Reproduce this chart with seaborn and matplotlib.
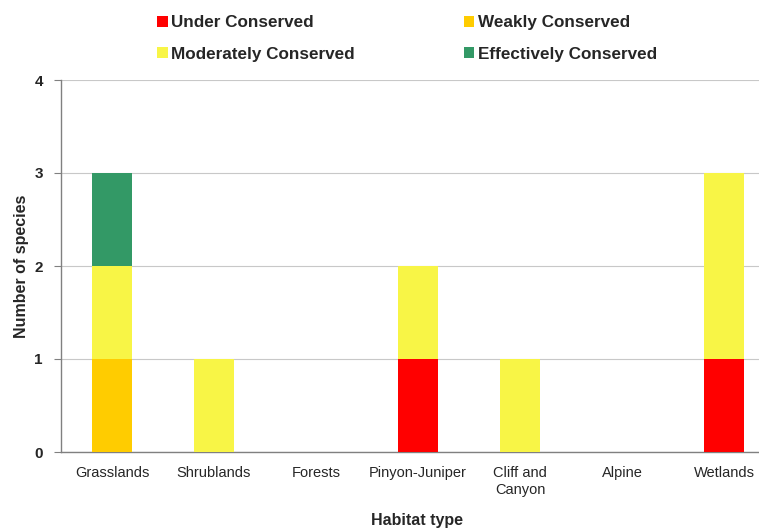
import numpy as np
import matplotlib
matplotlib.use("Agg")
import matplotlib.pyplot as plt
import seaborn as sns
from matplotlib.patches import Patch

habitats = ["Grasslands", "Shrublands", "Forests", "Pinyon-Juniper",
            "Cliff and\nCanyon", "Alpine", "Wetlands"]
under = [0, 0, 0, 1, 0, 0, 1]
weakly = [1, 0, 0, 0, 0, 0, 0]
moderately = [1, 1, 0, 1, 1, 0, 2]
effectively = [1, 0, 0, 0, 0, 0, 0]

series = [("Under Conserved", under, "#FF0000"),
          ("Weakly Conserved", weakly, "#FFCC00"),
          ("Moderately Conserved", moderately, "#F8F546"),
          ("Effectively Conserved", effectively, "#339966")]

sns.set_style("white")
plt.rcParams['font.family'] = ['Liberation Sans', 'DejaVu Sans']

fig = plt.figure(figsize=(7.59, 5.31), dpi=100)
ax = fig.add_axes([61 / 759, 79 / 531, 714 / 759, 372 / 531])

bottom = np.zeros(len(habitats))
for name, vals, col in series:
    sns.barplot(x=habitats, y=vals, bottom=bottom, color=col, width=0.4,
                saturation=1, linewidth=0, ax=ax, zorder=3)
    bottom = bottom + np.array(vals)

ax.set_ylim(0, 4)
ax.set_xlim(-0.5, len(habitats) - 0.5)
ax.set_yticks([0, 1, 2, 3, 4])
ax.set_yticklabels(["0", "1", "2", "3", "4"], fontsize=11, fontweight="bold")
ax.yaxis.grid(True, color="#C8C8C8", linewidth=0.8, zorder=0)
ax.xaxis.grid(False)

ax.set_xticks(range(len(habitats)))
ax.set_xticklabels(habitats, linespacing=1.3)
ax.tick_params(axis="x", which="major", length=0, labelsize=10.5, pad=10)
ax.set_xticks(np.arange(-0.5, len(habitats)), minor=True)
ax.tick_params(axis="x", which="minor", length=5, color="#808080", direction="out")
ax.tick_params(axis="y", length=5, color="#808080", direction="out", left=True, pad=8)

for s in ["top", "right"]:
    ax.spines[s].set_visible(False)
for s in ["left", "bottom"]:
    ax.spines[s].set_color("#808080")
    ax.spines[s].set_linewidth(1.0)

ax.set_xlabel("Habitat type", fontsize=11.5, fontweight="bold")
ax.xaxis.set_label_coords((417 - 61) / 714, -0.163)
ax.set_ylabel("Number of species", fontsize=11.5, fontweight="bold", labelpad=4)

handles = [Patch(facecolor=c, edgecolor="none", label=n) for n, _, c in series]
# row-major order like the original (matplotlib fills columns first)
handles = [handles[0], handles[2], handles[1], handles[3]]
fig.legend(handles=handles, ncol=2, frameon=False, loc="upper left",
           bbox_to_anchor=(142 / 759, 1.0), prop={"weight": "bold", "size": 12.3},
           handlelength=0.6, handleheight=0.6, handletextpad=0.2,
           columnspacing=6.4, labelspacing=0.95)

fig.savefig("out.png", dpi=100)
